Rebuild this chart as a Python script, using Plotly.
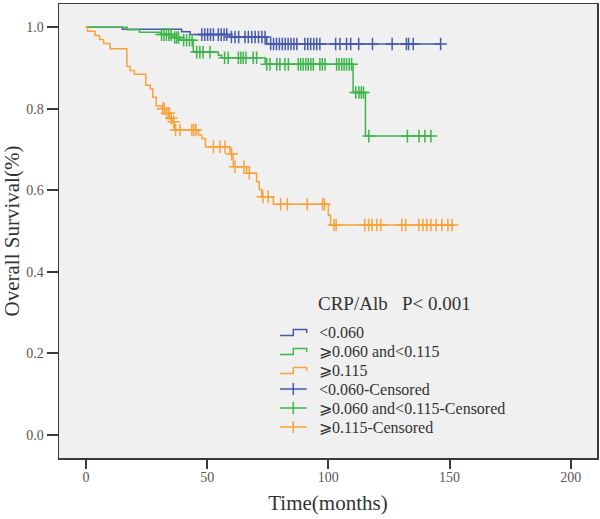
import plotly.graph_objects as go

# ---------------- data ----------------
# Kaplan-Meier step functions: event times (months) and survival after each event
blue_t = [0, 15.0, 39.5, 43.0, 59.3, 74.6]
blue_s = [1.0, 0.995, 0.989, 0.982, 0.976, 0.959]

green_t = [0, 17.0, 22.1, 30.9, 36.1, 38.8, 44.3, 54.6, 56.0, 73.9, 110.2, 115.3]
green_s = [1.0, 0.994, 0.988, 0.982, 0.975, 0.968, 0.939, 0.931, 0.925, 0.909, 0.840, 0.733]

orange_t = [0, 0.7, 3.8, 5.6, 7.3, 10.0, 16.9, 18.2, 20.0, 24.7, 26.5, 27.6, 29.0,
            31.3, 33.1, 34.5, 35.8, 36.5, 46.4, 47.8, 49.3, 59.4, 60.8, 66.3,
            70.4, 71.5, 72.5, 77.3, 100.0, 100.9]
orange_s = [1.0, 0.990, 0.980, 0.970, 0.960, 0.947, 0.904, 0.894, 0.885, 0.858, 0.849, 0.828, 0.807,
            0.800, 0.789, 0.777, 0.768, 0.748, 0.736, 0.727, 0.707, 0.689, 0.658, 0.642,
            0.621, 0.602, 0.584, 0.566, 0.539, 0.515]

# censored observation times (months)
blue_cens = [47.8, 49.0, 50.2, 51.4, 52.6, 54.6, 55.8, 57.0, 58.1, 60.0, 61.5, 63.0,
             65.6, 67.0, 68.4, 69.8, 71.2, 72.6, 73.9, 76.2, 77.4, 78.6, 79.8, 81.0,
             82.2, 83.4, 84.6, 85.8, 87.0, 90.3, 91.5, 92.7, 94.0, 95.2, 96.5,
             103.0, 104.8, 107.5, 109.2, 112.5, 118.2, 126.3, 132.2, 133.1, 135.0, 146.3]
green_cens = [31.2, 32.2, 33.2, 34.2, 35.2, 36.6, 37.4, 38.2, 40.3, 41.5, 42.7, 43.8,
              45.7, 47.0, 48.3, 51.2, 57.2, 58.7, 62.9, 63.9, 64.9, 66.0, 69.0, 70.4,
              74.6, 75.9, 78.7, 80.0, 82.1, 83.5, 87.6, 88.6, 89.6, 90.7, 91.7, 92.8, 93.8,
              96.5, 97.5, 98.6, 103.4, 104.4, 105.5, 106.5, 107.5, 108.6, 109.6,
              111.3, 112.6, 113.6, 114.5, 116.7, 132.6, 137.4, 139.8, 142.3]
orange_cens = [31.8, 32.3, 33.4, 34.2, 35.2, 36.2, 37.0, 38.8, 43.7, 44.5, 45.4,
               52.6, 55.3, 57.4, 60.1, 61.5, 65.2, 67.4, 73.0, 75.2, 80.3, 83.1, 91.3,
               97.6, 98.4, 102.3, 103.2, 115.0, 116.6, 118.0, 120.0, 121.6, 130.3, 131.9,
               137.3, 139.0, 140.6, 142.3, 144.5, 146.8, 149.3, 151.0]

group_names = ["<0.060", "\u2a7e0.060 and<0.115", "\u2a7e0.115"]
legend_title = "CRP/Alb   P< 0.001"
x_ticks = [0, 50, 100, 150, 200]
y_ticks = [0.0, 0.2, 0.4, 0.6, 0.8, 1.0]

# ---------------- styling ----------------
BLUE = "#4659AC"
GREEN = "#3DB54A"
ORANGE = "#F8A23A"
COLORS = [BLUE, GREEN, ORANGE]
SERIF = "Liberation Serif, Times New Roman, DejaVu Serif, serif"

W, H = 600, 519
M_L, M_R, M_T, M_B = 59, 3, 4, 61
PW, PH = W - M_L - M_R, H - M_T - M_B


def step_value(ts, ss, t):
    v = ss[0]
    for ti, si in zip(ts, ss):
        if ti <= t:
            v = si
    return v


def px_x(x):  # pixel -> paper x
    return (x - M_L) / PW


def px_y(y):  # pixel -> paper y
    return (H - M_B - y) / PH


fig = go.Figure()
groups = [(blue_t, blue_s, blue_cens, BLUE),
          (green_t, green_s, green_cens, GREEN),
          (orange_t, orange_s, orange_cens, ORANGE)]

for (ts, ss, cens, col), name in zip(groups, group_names):
    end = max(cens)
    fig.add_trace(go.Scatter(
        x=ts + [end], y=ss + [ss[-1]], mode="lines",
        line=dict(shape="hv", color=col, width=1.5),
        name=name, hoverinfo="skip", showlegend=False))

for (ts, ss, cens, col), name in zip(groups, group_names):
    xs = list(cens)
    ys = [step_value(ts, ss, c) for c in cens]
    fig.add_trace(go.Scatter(
        x=xs, y=ys, mode="markers",
        marker=dict(symbol="cross-thin", size=9, line=dict(color=col, width=1.5)),
        name=name + "-Censored", hoverinfo="skip", showlegend=False))

# ---------------- hand-built legend (SPSS style) ----------------
shapes = []
annotations = []
annotations.append(dict(
    text=legend_title.replace(" ", "\u00a0"), xref="paper", yref="paper",
    x=px_x(316), y=px_y(303), xanchor="left", yanchor="middle", showarrow=False,
    font=dict(family=SERIF, size=19, color="#333333")))

legend_labels = group_names + [n + "-Censored" for n in group_names]
row0, row_gap = 332, 19
gx0, gx1, gx2 = 280, 293.3, 306.7
for i, label in enumerate(legend_labels):
    yc = row0 + i * row_gap
    col = COLORS[i % 3]
    if i < 3:
        path = "M {a},{b} L {c},{b} L {c},{d} L {e},{d} L {e},{f}".format(
            a=px_x(gx0), b=px_y(yc + 3.5), c=px_x(gx1), d=px_y(yc - 2.5),
            e=px_x(gx2), f=px_y(yc + 1))
        shapes.append(dict(type="path", xref="paper", yref="paper", path=path,
                           line=dict(color=col, width=1.5)))
    else:
        shapes.append(dict(type="line", xref="paper", yref="paper",
                           x0=px_x(gx0), x1=px_x(gx2), y0=px_y(yc), y1=px_y(yc),
                           line=dict(color=col, width=1.5)))
        shapes.append(dict(type="line", xref="paper", yref="paper",
                           x0=px_x(gx1), x1=px_x(gx1), y0=px_y(yc - 6), y1=px_y(yc + 6),
                           line=dict(color=col, width=1.5)))
    annotations.append(dict(
        text=label, xref="paper", yref="paper", x=px_x(317), y=px_y(yc),
        xanchor="left", yanchor="middle", showarrow=False,
        font=dict(family=SERIF, size=16, color="#333333")))

axis_common = dict(
    showline=True, linecolor="#3a3a3a", linewidth=1.5, mirror=True,
    ticks="outside", tickcolor="#3a3a3a", tickwidth=2,
    showgrid=False, zeroline=False, automargin=False,
    tickfont=dict(family=SERIF, size=14, color="#555555"),
)

fig.update_layout(
    width=W, height=H,
    margin=dict(l=M_L, r=M_R, t=M_T, b=M_B, pad=0),
    paper_bgcolor="white", plot_bgcolor="#F0F0F0",
    font=dict(family=SERIF, color="#333333"),
    xaxis=dict(axis_common, range=[-11.1, 210.8], tickvals=x_ticks, ticklen=9,
               ticklabelstandoff=-3,
               title=dict(text="Time(months)", font=dict(family=SERIF, size=21, color="#333333"),
                          standoff=11)),
    yaxis=dict(axis_common, range=[-0.0565, 1.057], tickvals=y_ticks, tickformat=".1f",
               ticklen=11,
               title=dict(text="Overall Survival(%)", font=dict(family=SERIF, size=21, color="#333333"),
                          standoff=4)),
    shapes=shapes,
    annotations=annotations,
    showlegend=False,
)

fig.write_html("out.html",
               config={"displayModeBar": False, "staticPlot": True},
               post_script="document.body.style.margin='0px';document.body.style.overflow='hidden';")
